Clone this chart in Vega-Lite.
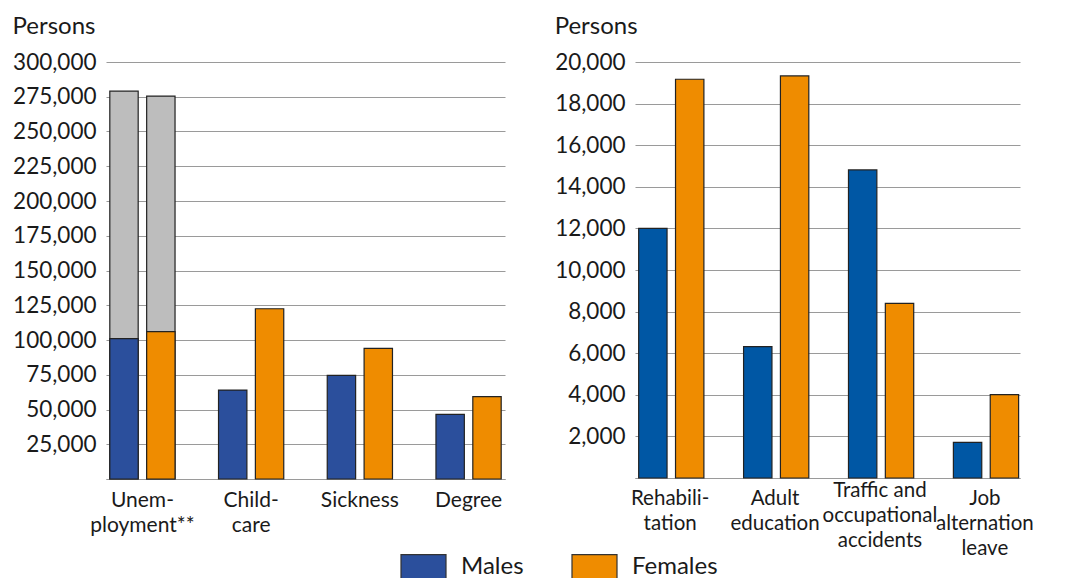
{
  "$schema": "https://vega.github.io/schema/vega-lite/v6.json",
  "padding": {"left": 12, "top": 15, "right": 0, "bottom": 0},
  "bounds": "flush",
  "spacing": 130,
  "config": {
    "font": "Lato",
    "view": {"stroke": null},
    "axis": {"labelFont": "Lato", "labelFontSize": 21, "labelColor": "#1a1a1a", "ticks": false, "gridColor": "#9a9a9a", "gridWidth": 1.2, "domainColor": "#9a9a9a", "domainWidth": 1.2, "labelOverlap": false},
    "title": {"font": "Lato", "fontSize": 24, "fontWeight": "normal", "color": "#1a1a1a", "anchor": "start", "frame": "bounds"},
    "legend": {"labelFont": "Lato", "labelFontSize": 24, "labelColor": "#1a1a1a"}
  },
  "datasets": {
    "left": [
      {"cat": "Unem-|ployment**", "sex": "Males", "value": 101000, "total": 279000},
      {"cat": "Unem-|ployment**", "sex": "Females", "value": 106000, "total": 275500},
      {"cat": "Child-|care", "sex": "Males", "value": 64000, "total": null},
      {"cat": "Child-|care", "sex": "Females", "value": 122500, "total": null},
      {"cat": "Sickness", "sex": "Males", "value": 74500, "total": null},
      {"cat": "Sickness", "sex": "Females", "value": 94000, "total": null},
      {"cat": "Degree", "sex": "Males", "value": 46500, "total": null},
      {"cat": "Degree", "sex": "Females", "value": 59300, "total": null}
    ],
    "right": [
      {"cat": "Rehabili-|tation", "sex": "Males", "value": 12000},
      {"cat": "Rehabili-|tation", "sex": "Females", "value": 19170},
      {"cat": "Adult|education", "sex": "Males", "value": 6320},
      {"cat": "Adult|education", "sex": "Females", "value": 19330},
      {"cat": "Traffic and|occupational|accidents", "sex": "Males", "value": 14810},
      {"cat": "Traffic and|occupational|accidents", "sex": "Females", "value": 8400},
      {"cat": "Job|alternation|leave", "sex": "Males", "value": 1710},
      {"cat": "Job|alternation|leave", "sex": "Females", "value": 4010}
    ]
  },
  "resolve": {"scale": {"color": "independent"}},
  "hconcat": [
    {
      "width": 399,
      "height": 417,
      "title": {"text": "Persons", "offset": 12},
      "data": {"name": "left"},
      "encoding": {
        "x": {"field": "cat", "type": "nominal", "sort": null,
              "scale": {"paddingInner": 0.4, "paddingOuter": 0.035},
              "axis": {"title": null, "labelAngle": 0, "labelExpr": "split(datum.label, '|')", "labelBaseline": "top", "labelPadding": 10, "labelLineHeight": 25, "grid": false}},
        "xOffset": {"field": "sex", "type": "nominal", "sort": ["Males", "Females"],
                    "scale": {"domain": ["Males", "Females"], "paddingInner": 0.23, "paddingOuter": 0}}
      },
      "layer": [
        {
          "mark": {"type": "bar", "color": "#bdbdbd", "stroke": "#222222", "strokeWidth": 1.2},
          "encoding": {
            "y": {"field": "total", "type": "quantitative",
                  "scale": {"domain": [0, 300000]},
                  "axis": {"title": null, "values": [0, 25000, 50000, 75000, 100000, 125000, 150000, 175000, 200000, 225000, 250000, 275000, 300000], "format": ",d", "labelExpr": "datum.value == 0 ? '' : datum.label", "labelFontSize": 22.5, "grid": true, "domain": false, "labelPadding": 10}}
          }
        },
        {
          "mark": {"type": "bar", "stroke": "#222222", "strokeWidth": 1.2},
          "encoding": {
            "y": {"field": "value", "type": "quantitative",
                  "scale": {"domain": [0, 300000]},
                  "axis": {"title": null, "values": [0, 25000, 50000, 75000, 100000, 125000, 150000, 175000, 200000, 225000, 250000, 275000, 300000], "format": ",d", "labelExpr": "datum.value == 0 ? '' : datum.label", "labelFontSize": 22.5, "grid": true, "domain": false, "labelPadding": 10}},
            "color": {"field": "sex", "type": "nominal", "sort": ["Males", "Females"],
                      "scale": {"domain": ["Males", "Females"], "range": ["#2b4f9c", "#ef8c00"]},
                      "legend": {"title": null, "orient": "none", "legendX": 294, "legendY": 481, "direction": "horizontal", "symbolType": "M-1,-0.533H1V0.533H-1Z", "symbolSize": 2025, "symbolStrokeColor": "#333333", "symbolStrokeWidth": 1.2, "symbolOpacity": 1, "labelOffset": 14, "columnPadding": 45, "padding": 0}}
          }
        }
      ]
    },
    {
      "width": 385,
      "height": 416,
      "title": {"text": "Persons", "offset": 12},
      "data": {"name": "right"},
      "mark": {"type": "bar", "stroke": "#222222", "strokeWidth": 1.2},
      "encoding": {
        "x": {"field": "cat", "type": "nominal", "sort": null,
              "scale": {"paddingInner": 0.4, "paddingOuter": 0.035},
              "axis": {"title": null, "labelAngle": 0, "labelExpr": "split(datum.label, '|')", "labelBaseline": "top", "labelFontSize": 20.5,
                       "labelPadding": {"condition": {"test": "indexof(datum.value, 'Traffic') >= 0", "value": 2}, "value": 10},
                       "labelLineHeight": 25, "grid": false}},
        "xOffset": {"field": "sex", "type": "nominal", "sort": ["Males", "Females"],
                    "scale": {"domain": ["Males", "Females"], "paddingInner": 0.2, "paddingOuter": 0}},
        "y": {"field": "value", "type": "quantitative",
              "scale": {"domain": [0, 20000]},
              "axis": {"title": null, "values": [0, 2000, 4000, 6000, 8000, 10000, 12000, 14000, 16000, 18000, 20000], "format": ",d", "labelExpr": "datum.value == 0 ? '' : datum.label", "labelFontSize": 22.5, "grid": true, "domain": false, "labelPadding": 10}},
        "color": {"field": "sex", "type": "nominal", "sort": ["Males", "Females"],
                  "scale": {"domain": ["Males", "Females"], "range": ["#0057a4", "#ef8c00"]},
                  "legend": null}
      }
    }
  ]
}
